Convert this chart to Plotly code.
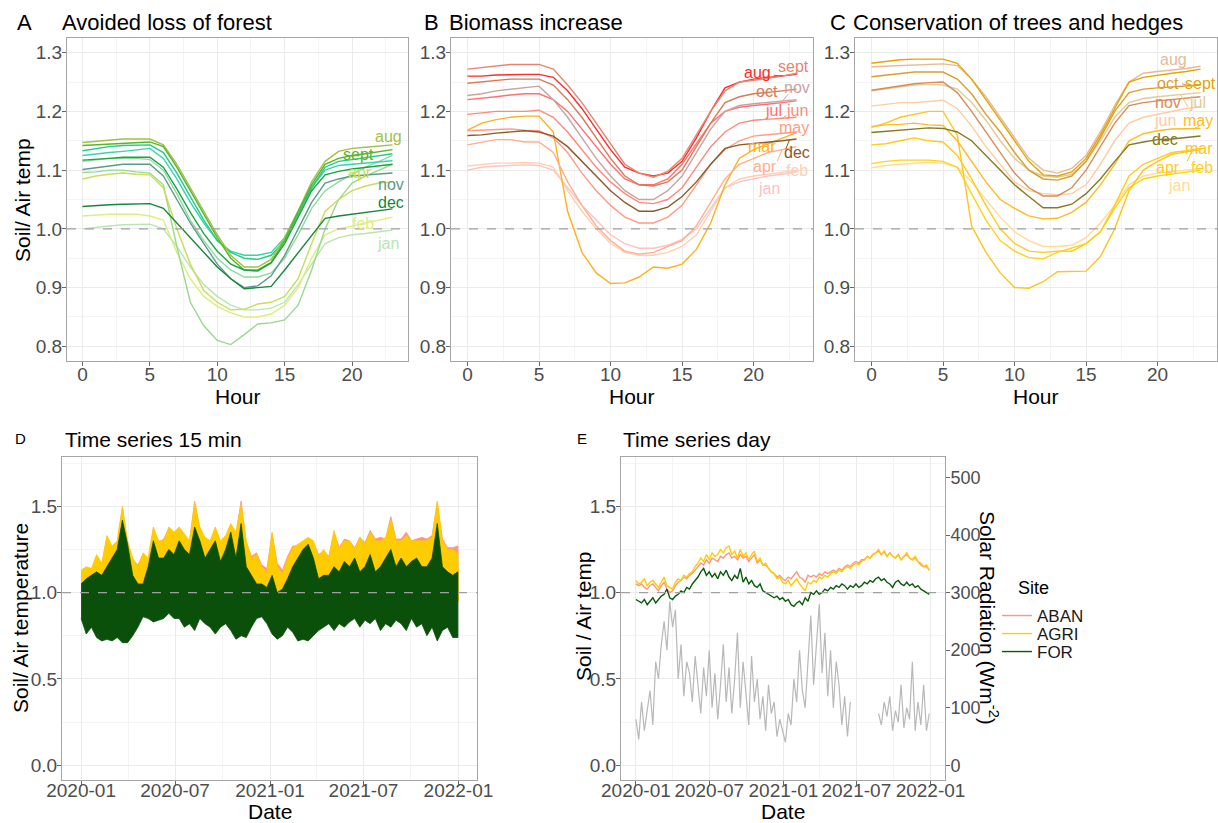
import plotly.graph_objects as go
import pandas as pd

# ---------------- data ----------------
HOURS = list(range(24))
MONTHS = ['jan', 'feb', 'mar', 'apr', 'may', 'jun', 'jul', 'aug', 'sept', 'oct', 'nov', 'dec']

A_FOREST = {
    'aug':  [1.147,1.149,1.151,1.153,1.153,1.153,1.143,1.110,1.070,1.030,0.990,0.955,0.935,0.935,0.948,0.985,1.030,1.080,1.115,1.132,1.137,1.139,1.141,1.143],
    'sept': [1.142,1.143,1.144,1.146,1.147,1.148,1.140,1.105,1.065,1.025,0.985,0.950,0.930,0.930,0.943,0.980,1.030,1.075,1.110,1.120,1.125,1.128,1.131,1.135],
    'jul':  [1.133,1.137,1.140,1.142,1.143,1.143,1.130,1.095,1.055,1.015,0.980,0.960,0.950,0.948,0.955,0.980,1.025,1.070,1.105,1.115,1.118,1.121,1.124,1.128],
    'jun':  [1.125,1.128,1.130,1.132,1.135,1.137,1.120,1.085,1.045,1.010,0.980,0.962,0.955,0.955,0.960,0.985,1.030,1.070,1.100,1.108,1.110,1.112,1.114,1.116],
    'oct':  [1.117,1.118,1.120,1.122,1.122,1.122,1.105,1.068,1.028,0.992,0.962,0.940,0.930,0.928,0.942,0.975,1.020,1.065,1.092,1.098,1.102,1.105,1.108,1.110],
    'may':  [1.115,1.117,1.120,1.120,1.120,1.118,1.100,1.060,1.015,0.980,0.950,0.930,0.918,0.918,0.925,0.950,0.990,1.035,1.065,1.080,1.092,1.105,1.115,1.125],
    'nov':  [1.101,1.104,1.108,1.110,1.110,1.110,1.090,1.050,1.010,0.975,0.940,0.915,0.900,0.903,0.920,0.955,1.000,1.045,1.078,1.085,1.090,1.092,1.094,1.095],
    'mar':  [1.096,1.097,1.100,1.100,1.097,1.095,1.075,0.970,0.875,0.835,0.810,0.803,0.820,0.838,0.840,0.845,0.870,0.930,1.000,1.050,1.078,1.090,1.100,1.110],
    'apr':  [1.085,1.090,1.093,1.095,1.093,1.092,1.070,1.000,0.940,0.895,0.875,0.862,0.863,0.872,0.875,0.885,0.915,0.975,1.030,1.050,1.065,1.073,1.078,1.080],
    'dec':  [1.038,1.040,1.041,1.042,1.043,1.043,1.035,1.010,0.985,0.960,0.935,0.915,0.898,0.900,0.902,0.930,0.960,0.990,1.018,1.022,1.025,1.028,1.031,1.034],
    'feb':  [1.022,1.024,1.025,1.025,1.025,1.022,1.015,0.960,0.915,0.885,0.868,0.857,0.850,0.850,0.855,0.870,0.900,0.950,0.990,1.000,1.005,1.010,1.015,1.020],
    'jan':  [1.000,1.003,1.005,1.007,1.008,1.008,1.000,0.970,0.935,0.905,0.885,0.870,0.862,0.862,0.865,0.875,0.905,0.940,0.975,0.985,0.990,0.992,0.995,0.998],
}

B_BIOMASS = {
    'sept': [1.272,1.275,1.278,1.280,1.280,1.280,1.272,1.245,1.215,1.180,1.145,1.110,1.095,1.088,1.098,1.120,1.160,1.200,1.235,1.250,1.253,1.256,1.260,1.265],
    'aug':  [1.260,1.260,1.262,1.263,1.263,1.263,1.258,1.235,1.205,1.170,1.135,1.105,1.095,1.090,1.095,1.115,1.155,1.200,1.240,1.250,1.255,1.258,1.260,1.263],
    'oct':  [1.248,1.250,1.252,1.255,1.255,1.255,1.245,1.220,1.190,1.155,1.120,1.090,1.075,1.073,1.080,1.100,1.140,1.180,1.215,1.225,1.230,1.232,1.235,1.238],
    'nov':  [1.227,1.230,1.235,1.238,1.240,1.243,1.220,1.190,1.155,1.120,1.090,1.065,1.050,1.050,1.065,1.090,1.130,1.170,1.200,1.210,1.213,1.215,1.217,1.220],
    'jul':  [1.220,1.222,1.225,1.228,1.230,1.230,1.220,1.200,1.170,1.140,1.110,1.085,1.075,1.075,1.085,1.110,1.145,1.180,1.200,1.207,1.210,1.212,1.215,1.218],
    'jun':  [1.195,1.198,1.200,1.200,1.200,1.202,1.190,1.165,1.135,1.105,1.080,1.060,1.045,1.043,1.050,1.070,1.105,1.140,1.165,1.180,1.185,1.187,1.188,1.190],
    'may':  [1.167,1.168,1.170,1.170,1.168,1.167,1.155,1.130,1.095,1.065,1.040,1.020,1.010,1.010,1.020,1.040,1.075,1.110,1.135,1.150,1.158,1.160,1.162,1.165],
    'mar':  [1.168,1.180,1.186,1.190,1.192,1.192,1.165,1.030,0.960,0.925,0.907,0.908,0.918,0.935,0.933,0.940,0.965,1.010,1.075,1.120,1.135,1.145,1.155,1.164],
    'dec':  [1.159,1.160,1.163,1.165,1.167,1.165,1.158,1.140,1.115,1.090,1.065,1.045,1.030,1.030,1.037,1.055,1.080,1.110,1.137,1.143,1.145,1.147,1.150,1.153],
    'apr':  [1.143,1.148,1.152,1.152,1.148,1.148,1.130,1.080,1.040,1.005,0.980,0.962,0.957,0.960,0.970,0.980,1.005,1.045,1.085,1.110,1.120,1.130,1.135,1.140],
    'feb':  [1.107,1.110,1.112,1.112,1.113,1.112,1.105,1.065,1.030,1.000,0.975,0.960,0.955,0.955,0.960,0.970,0.990,1.030,1.070,1.085,1.090,1.093,1.097,1.100],
    'jan':  [1.100,1.105,1.107,1.108,1.109,1.108,1.100,1.070,1.040,1.015,0.990,0.975,0.967,0.967,0.972,0.982,1.000,1.035,1.070,1.080,1.085,1.090,1.093,1.097],
}

C_TREES = {
    'sept': [1.282,1.285,1.288,1.289,1.289,1.289,1.282,1.255,1.220,1.185,1.150,1.115,1.092,1.090,1.097,1.120,1.160,1.205,1.250,1.258,1.262,1.265,1.268,1.272],
    'aug':  [1.276,1.277,1.279,1.280,1.281,1.281,1.278,1.255,1.225,1.190,1.155,1.120,1.100,1.095,1.103,1.125,1.165,1.210,1.250,1.265,1.268,1.270,1.273,1.277],
    'oct':  [1.259,1.262,1.265,1.267,1.267,1.267,1.255,1.230,1.195,1.165,1.130,1.100,1.085,1.083,1.090,1.115,1.155,1.200,1.232,1.238,1.240,1.242,1.243,1.245],
    'nov':  [1.236,1.240,1.244,1.247,1.249,1.250,1.232,1.200,1.165,1.130,1.095,1.070,1.056,1.056,1.070,1.100,1.140,1.180,1.210,1.215,1.218,1.220,1.222,1.225],
    'jul':  [1.235,1.238,1.242,1.245,1.246,1.245,1.238,1.215,1.185,1.150,1.120,1.100,1.090,1.088,1.093,1.115,1.150,1.190,1.215,1.222,1.225,1.227,1.229,1.232],
    'jun':  [1.209,1.212,1.215,1.215,1.217,1.219,1.205,1.175,1.140,1.110,1.080,1.065,1.060,1.058,1.060,1.075,1.110,1.150,1.180,1.190,1.195,1.200,1.205,1.208],
    'may':  [1.174,1.177,1.178,1.180,1.177,1.176,1.150,1.115,1.080,1.050,1.035,1.022,1.017,1.018,1.028,1.045,1.075,1.110,1.150,1.162,1.167,1.170,1.171,1.171],
    'mar':  [1.173,1.180,1.190,1.195,1.200,1.200,1.160,1.005,0.960,0.925,0.900,0.899,0.910,0.927,0.927,0.928,0.953,1.000,1.065,1.100,1.115,1.127,1.131,1.135],
    'dec':  [1.164,1.166,1.168,1.170,1.172,1.171,1.165,1.150,1.125,1.100,1.075,1.055,1.036,1.036,1.042,1.060,1.085,1.115,1.143,1.148,1.152,1.153,1.155,1.158],
    'apr':  [1.143,1.145,1.150,1.155,1.150,1.148,1.125,1.085,1.040,1.000,0.975,0.962,0.960,0.962,0.962,0.975,0.995,1.040,1.090,1.110,1.120,1.130,1.133,1.137],
    'feb':  [1.111,1.115,1.117,1.117,1.117,1.115,1.105,1.060,1.015,0.980,0.962,0.951,0.949,0.960,0.967,0.975,0.995,1.035,1.070,1.085,1.090,1.093,1.097,1.100],
    'jan':  [1.104,1.108,1.110,1.112,1.113,1.112,1.105,1.080,1.050,1.020,0.995,0.980,0.970,0.970,0.972,0.985,1.010,1.040,1.075,1.090,1.095,1.097,1.100,1.103],
}

# 15-min series, summarised as 10-day envelopes (max / min) starting 2020-01-01
D_DATES = pd.date_range('2020-01-01', periods=74, freq='10D').strftime('%Y-%m-%d').tolist()
D_LO_DATES = pd.date_range('2020-01-01', periods=25, freq='MS').strftime('%Y-%m-%d').tolist()
AGRI_HI = [1.13,1.15,1.14,1.22,1.17,1.33,1.27,1.30,1.50,1.30,
           1.20,1.15,1.23,1.20,1.38,1.30,1.30,1.38,1.35,1.38,
           1.34,1.30,1.52,1.38,1.32,1.30,1.38,1.30,1.33,1.40,
           1.35,1.51,1.30,1.20,1.22,1.15,1.12,1.35,1.15,1.11,
           1.20,1.26,1.28,1.30,1.32,1.30,1.21,1.25,1.20,1.36,
           1.25,1.30,1.30,1.25,1.32,1.28,1.35,1.30,1.30,1.32,
           1.42,1.30,1.30,1.33,1.30,1.30,1.30,1.30,1.32,1.53,
           1.30,1.25,1.25,1.23]
ABAN_HI = [1.12,1.14,1.13,1.21,1.16,1.32,1.26,1.29,1.49,1.29,
           1.19,1.16,1.22,1.19,1.37,1.29,1.31,1.37,1.34,1.37,
           1.33,1.29,1.53,1.37,1.31,1.29,1.37,1.29,1.32,1.39,
           1.34,1.53,1.29,1.21,1.23,1.16,1.14,1.34,1.17,1.13,
           1.21,1.27,1.27,1.29,1.31,1.29,1.22,1.24,1.21,1.35,
           1.26,1.31,1.30,1.26,1.32,1.29,1.36,1.31,1.32,1.31,
           1.44,1.31,1.31,1.35,1.30,1.31,1.32,1.31,1.33,1.52,
           1.31,1.26,1.26,1.27]
FOR_HI = [1.05,1.08,1.10,1.12,1.10,1.15,1.20,1.25,1.42,1.28,
          1.10,1.05,1.05,1.15,1.30,1.20,1.20,1.25,1.22,1.30,
          1.25,1.22,1.38,1.30,1.20,1.25,1.30,1.18,1.25,1.35,
          1.20,1.40,1.15,1.10,1.05,1.05,1.03,1.10,1.00,1.02,
          1.08,1.15,1.20,1.25,1.28,1.20,1.08,1.10,1.10,1.15,
          1.12,1.18,1.15,1.20,1.12,1.15,1.22,1.12,1.15,1.20,
          1.25,1.15,1.20,1.15,1.18,1.20,1.15,1.15,1.20,1.40,
          1.15,1.12,1.10,1.12]
FOR_LO = [0.85,0.76,0.80,0.74,0.72,0.73,0.72,0.74,0.71,0.71,
          0.75,0.80,0.86,0.85,0.83,0.84,0.85,0.88,0.85,0.85,
          0.80,0.82,0.78,0.85,0.82,0.80,0.76,0.80,0.82,0.78,
          0.73,0.75,0.74,0.80,0.85,0.86,0.82,0.76,0.73,0.75,
          0.80,0.77,0.72,0.73,0.72,0.75,0.78,0.80,0.82,0.78,
          0.82,0.80,0.83,0.85,0.80,0.84,0.82,0.85,0.78,0.82,
          0.80,0.84,0.82,0.78,0.85,0.80,0.82,0.75,0.80,0.72,
          0.78,0.80,0.74,0.74]
AGRI_LO = [0.95,0.93,0.92,0.93,0.96,0.98,0.97,0.97,0.96,0.94,0.93,0.95,
           0.95,0.92,0.91,0.93,0.95,0.97,0.97,0.97,0.96,0.96,0.95,0.95,0.95]
ABAN_LO = [0.96,0.94,0.93,0.94,0.96,0.97,0.96,0.96,0.95,0.94,0.94,0.96,
           0.96,0.93,0.92,0.94,0.95,0.97,0.97,0.97,0.96,0.96,0.95,0.95,0.95]

# daily series, read at weekly steps starting 2020-01-01
E_DATES = pd.date_range('2020-01-01', periods=105, freq='7D').strftime('%Y-%m-%d').tolist()
AGRI_DAY = [1.07,1.05,1.06,1.08,1.04,1.06,1.07,1.05,1.03,1.06,
            1.09,1.04,1.03,1.02,1.06,1.08,1.07,1.10,1.09,1.11,
            1.12,1.15,1.17,1.20,1.18,1.22,1.19,1.23,1.21,1.22,
            1.25,1.23,1.26,1.27,1.22,1.24,1.20,1.25,1.21,1.23,
            1.19,1.22,1.24,1.18,1.20,1.16,1.17,1.14,1.12,1.11,
            1.08,1.09,1.06,1.05,1.07,1.04,1.06,1.08,1.05,1.03,
            1.01,1.06,1.05,1.07,1.06,1.09,1.08,1.10,1.09,1.11,
            1.12,1.11,1.13,1.12,1.14,1.15,1.14,1.16,1.17,1.16,
            1.18,1.19,1.21,1.20,1.22,1.23,1.25,1.22,1.24,1.21,
            1.23,1.21,1.20,1.22,1.19,1.21,1.23,1.20,1.19,1.21,
            1.18,1.17,1.15,1.16,1.13]
ABAN_DAY = [1.05,1.04,1.05,1.03,1.02,1.04,1.05,1.03,1.01,1.04,
            1.06,1.02,1.00,1.01,1.04,1.06,1.07,1.09,1.08,1.10,
            1.11,1.13,1.15,1.17,1.16,1.19,1.17,1.20,1.19,1.18,
            1.21,1.20,1.22,1.23,1.20,1.21,1.19,1.22,1.20,1.21,
            1.18,1.20,1.22,1.17,1.19,1.16,1.16,1.14,1.12,1.11,
            1.09,1.10,1.08,1.07,1.09,1.08,1.10,1.12,1.09,1.08,
            1.06,1.10,1.09,1.10,1.09,1.11,1.10,1.12,1.11,1.12,
            1.13,1.12,1.14,1.13,1.15,1.16,1.15,1.17,1.18,1.17,
            1.19,1.19,1.21,1.20,1.22,1.23,1.24,1.22,1.24,1.21,
            1.23,1.21,1.20,1.22,1.19,1.21,1.22,1.20,1.19,1.20,
            1.18,1.16,1.15,1.15,1.13]
FOR_DAY = [0.96,0.95,0.94,0.96,0.93,0.95,0.97,0.94,0.96,0.98,
           0.99,1.02,0.97,0.96,0.98,0.99,1.01,1.00,1.03,1.02,
           1.05,1.07,1.09,1.12,1.14,1.10,1.12,1.09,1.11,1.08,
           1.12,1.10,1.13,1.09,1.07,1.10,1.08,1.14,1.06,1.09,
           1.05,1.07,1.04,1.03,1.05,1.01,1.00,0.99,0.98,0.97,
           0.98,0.96,0.97,0.95,0.96,0.93,0.92,0.94,0.95,0.93,
           0.97,0.95,1.00,0.99,1.01,0.99,1.00,1.02,1.01,1.03,
           1.02,1.04,1.03,1.05,1.04,1.02,1.04,1.03,1.05,1.03,
           1.04,1.06,1.05,1.07,1.06,1.08,1.09,1.07,1.08,1.06,
           1.05,1.03,1.06,1.07,1.05,1.04,1.06,1.04,1.05,1.03,
           1.04,1.02,1.01,1.00,0.99]
SOLAR = [80,45,110,60,95,130,70,180,150,210,
         250,200,285,240,270,150,210,120,180,160,
         110,190,140,90,170,120,200,100,160,80,
         140,210,110,170,90,150,230,100,180,130,
         70,190,110,150,80,120,60,140,90,110,
         50,80,60,40,90,70,150,110,200,130,
         100,180,260,140,220,280,160,230,120,200,
         100,180,140,70,120,50,110,None,None,None,
         None,None,None,None,None,None,90,70,110,85,
         120,60,95,75,140,65,100,80,180,60,
         110,70,140,60,90]

REF_RATIO = 1.0

# ---------------- styles ----------------
A_COLORS = {'jan': '#b9e6b0', 'feb': '#dcee7e', 'mar': '#98d98e', 'apr': '#c6de58',
            'may': '#8ddc9c', 'jun': '#33d6a6', 'jul': '#1ecb8a', 'aug': '#9fc23f',
            'sept': '#58b526', 'oct': '#17a63f', 'nov': '#5b9b8b', 'dec': '#16863a'}
B_COLORS = {'jan': '#ffc2c2', 'feb': '#ffcfb0', 'mar': '#ffb020', 'apr': '#ffae8f',
            'may': '#ff9c85', 'jun': '#ff8a7a', 'jul': '#ff7070', 'aug': '#ff2a2a',
            'sept': '#e8846e', 'oct': '#d87a58', 'nov': '#c9a3a3', 'dec': '#8b5a2b'}
C_COLORS = {'jan': '#ffdc90', 'feb': '#ffd21a', 'mar': '#ffc420', 'apr': '#ffcc1a',
            'may': '#ffbb22', 'jun': '#ffcca0', 'jul': '#e2cb95', 'aug': '#e6ba96',
            'sept': '#e3a600', 'oct': '#d99e30', 'nov': '#d98b5a', 'dec': '#857a22'}
SITE_COLORS = {'ABAN': '#ff9580', 'AGRI': '#ffcc00', 'FOR': '#0b5a0b'}

# month label placements (hour, ratio) as repelled in the original
A_LABELS = {'aug': (22.7, 1.157), 'sept': (20.5, 1.127), 'apr': (20.6, 1.096), 'nov': (22.9, 1.075),
            'dec': (22.9, 1.045), 'feb': (20.8, 1.009), 'jan': (22.7, 0.975)}
B_LABELS = {'aug': (20.3, 1.266), 'sept': (22.8, 1.277), 'oct': (20.9, 1.234), 'nov': (23.0, 1.240),
            'jul': (21.4, 1.201), 'jun': (23.0, 1.201), 'may': (22.8, 1.172), 'mar': (20.6, 1.140),
            'dec': (23.0, 1.130), 'apr': (20.8, 1.107), 'feb': (23.0, 1.100), 'jan': (21.1, 1.068)}
C_LABELS = {'aug': (21.1, 1.288), 'oct': (20.7, 1.248), 'sept': (23.0, 1.248), 'nov': (20.7, 1.216),
            'jul': (22.8, 1.216), 'jun': (20.5, 1.185), 'may': (22.8, 1.184), 'dec': (20.55, 1.153),
            'mar': (22.9, 1.136), 'apr': (20.7, 1.105), 'feb': (23.1, 1.105), 'jan': (21.5, 1.073)}
# leader segments of the repelled labels: (month, hour at label, ratio at label, hour at line)
B_LEADERS = [('aug', 21.3, 1.262, 22.0), ('nov', 22.5, 1.232, 22.0), ('jun', 22.4, 1.195, 22.0),
             ('dec', 22.2, 1.133, 22.5), ('apr', 21.6, 1.113, 22.0), ('feb', 22.2, 1.090, 21.8)]
C_LEADERS = [('oct', 21.6, 1.248, 22.2), ('jul', 22.2, 1.205, 21.6), ('mar', 22.0, 1.112, 22.4),
             ('may', 23.0, 1.176, 22.6)]

W, H = 1218, 823
FONT = 'Liberation Sans, Arial, sans-serif'
TICKC = '#4d4d4d'
GRID = '#ebebeb'
MINOR = '#f4f4f4'
FRAME = '#a6a6a6'


def px(x):
    return x / W


def py(y):
    return 1 - y / H


fig = go.Figure()

# ---- top panels ----
top = [('x', 'y', A_FOREST, A_COLORS, A_LABELS, []),
       ('x2', 'y2', B_BIOMASS, B_COLORS, B_LABELS, B_LEADERS),
       ('x3', 'y3', C_TREES, C_COLORS, C_LABELS, C_LEADERS)]
annotations = []
for xa, ya, data, cols, labels, leaders in top:
    for m in MONTHS:
        fig.add_trace(go.Scatter(x=HOURS, y=data[m], mode='lines',
                                 line=dict(color=cols[m], width=1.4),
                                 xaxis=xa, yaxis=ya, showlegend=False, hoverinfo='skip'))
    for m, (hx, vy) in labels.items():
        annotations.append(dict(x=hx, y=vy, xref=xa, yref=ya, text=m, showarrow=False,
                                font=dict(family=FONT, size=16, color=cols[m]),
                                xanchor='center', yanchor='middle'))
    for m, lx, ly, hx in leaders:
        # segment from the label to the month's own line (value read from the series)
        hi = int(hx)
        frac = hx - hi
        vy = data[m][hi] + (data[m][min(hi + 1, 23)] - data[m][hi]) * frac
        annotations.append(dict(x=hx, y=vy, xref=xa, yref=ya, ax=lx, ay=ly, axref=xa, ayref=ya,
                                text='', showarrow=True, arrowhead=0, arrowwidth=1,
                                arrowcolor=cols[m], standoff=0, startstandoff=0))


# ---- D: 15-min envelopes ----
def band(xh, yh, xl, yl):
    return list(xh) + list(xl)[::-1], list(yh) + list(yl)[::-1]


for name, hi, lo_d, lo in [('ABAN', ABAN_HI, D_LO_DATES, ABAN_LO),
                           ('AGRI', AGRI_HI, D_LO_DATES, AGRI_LO),
                           ('FOR', FOR_HI, D_DATES, FOR_LO)]:
    bx, by = band(D_DATES, hi, lo_d, lo)
    col = SITE_COLORS[name] if name != 'FOR' else '#0a4f0a'
    fig.add_trace(go.Scatter(x=bx, y=by, mode='lines', fill='toself', fillcolor=col,
                             line=dict(color=col, width=0.8), xaxis='x4', yaxis='y4',
                             showlegend=False, hoverinfo='skip'))

# ---- E: daily ----
fig.add_trace(go.Scatter(x=E_DATES, y=SOLAR, mode='lines', line=dict(color='#b8b8b8', width=1.2),
                         xaxis='x5', yaxis='y6', showlegend=False, hoverinfo='skip'))
LEGEND_Y = {'ABAN': 616, 'AGRI': 634, 'FOR': 652}
LEGEND_ID = {'ABAN': 'legend', 'AGRI': 'legend2', 'FOR': 'legend3'}
for name, vals in [('ABAN', ABAN_DAY), ('AGRI', AGRI_DAY), ('FOR', FOR_DAY)]:
    fig.add_trace(go.Scatter(x=E_DATES, y=vals, mode='lines', name=name,
                             line=dict(color=SITE_COLORS[name], width=1.4),
                             xaxis='x5', yaxis='y5', showlegend=True, hoverinfo='skip',
                             legend=LEGEND_ID[name]))


def axis(**kw):
    d = dict(showline=True, linecolor=FRAME, linewidth=1, mirror=True, ticks='outside',
             ticklen=4, tickcolor='#666666', tickwidth=1, showgrid=True, gridcolor=GRID,
             gridwidth=1, zeroline=False, automargin=False, tickangle=0,
             tickfont=dict(family=FONT, size=19, color=TICKC))
    d.update(kw)
    return d


TOP_Y = [py(361), py(38)]
BOT_Y = [py(780), py(457)]
hour_x = dict(range=[-1.15, 24.15], tick0=0, dtick=5, ticklabelstandoff=-8,
              minor=dict(tick0=0, dtick=2.5, showgrid=True, gridcolor=MINOR))
ratio_y = dict(range=[0.775, 1.325], tick0=0.8, dtick=0.1, tickformat='.1f', ticklabelstandoff=-4,
               minor=dict(tick0=0.8, dtick=0.05, showgrid=True, gridcolor=MINOR))
date_x = dict(type='date', range=['2019-11-25', '2022-02-06'], tick0='2020-01-01', dtick='M6',
              tickformat='%Y-%m', ticklabelstandoff=-11,
              minor=dict(tick0='2020-01-01', dtick='M3', showgrid=True, gridcolor=MINOR))
long_y = dict(range=[-0.085, 1.785], tick0=0, dtick=0.5, tickformat='.1f', ticklabelstandoff=-4,
              minor=dict(tick0=0, dtick=0.25, showgrid=True, gridcolor=MINOR))


def legend_box(name):
    return dict(x=px(997), y=py(LEGEND_Y[name]), xanchor='left', yanchor='middle',
                font=dict(family=FONT, size=17, color='#1a1a1a'),
                bgcolor='rgba(0,0,0,0)', borderwidth=0, itemwidth=30, tracegroupgap=0)


fig.update_layout(
    width=W, height=H, autosize=False,
    margin=dict(l=0, r=0, t=0, b=0, autoexpand=False),
    paper_bgcolor='white', plot_bgcolor='white',
    font=dict(family=FONT, color='#1a1a1a'),
    xaxis=axis(domain=[px(67), px(408)], anchor='y', **hour_x),
    yaxis=axis(domain=TOP_Y, anchor='x', **ratio_y),
    xaxis2=axis(domain=[px(451), px(813)], anchor='y2', **hour_x),
    yaxis2=axis(domain=TOP_Y, anchor='x2', **ratio_y),
    xaxis3=axis(domain=[px(855), px(1217)], anchor='y3', **hour_x),
    yaxis3=axis(domain=TOP_Y, anchor='x3', **ratio_y),
    xaxis4=axis(domain=[px(62), px(477)], anchor='y4', **date_x),
    yaxis4=axis(domain=BOT_Y, anchor='x4', **long_y),
    xaxis5=axis(domain=[px(621), px(945)], anchor='y5', **date_x),
    yaxis5=axis(domain=BOT_Y, anchor='x5', **long_y),
    yaxis6=dict(overlaying='y5', anchor='x5', side='right', range=[-25.5, 535.5],
                tick0=0, dtick=100, showgrid=False, zeroline=False, showline=False,
                automargin=False, ticklabelstandoff=-3,
                ticks='outside', ticklen=4, tickcolor='#666666',
                tickfont=dict(family=FONT, size=18, color=TICKC)),
    legend=legend_box('ABAN'),
    legend2=legend_box('AGRI'),
    legend3=legend_box('FOR'),
    showlegend=True,
)

# reference line at ratio 1
shapes = []
for xa, ya in [('x', 'y'), ('x2', 'y2'), ('x3', 'y3'), ('x4', 'y4'), ('x5', 'y5')]:
    shapes.append(dict(type='line', xref=f'{xa} domain', x0=0, x1=1, yref=ya,
                       y0=REF_RATIO, y1=REF_RATIO, layer='above',
                       line=dict(color='#a0a0a0', width=1.2, dash='dash')))
fig.update_layout(shapes=shapes)


def text(x, y, s, size, anchor='left', angle=0, color='#000000'):
    annotations.append(dict(x=px(x), y=py(y), xref='paper', yref='paper', text=s,
                            showarrow=False, textangle=angle, xanchor=anchor, yanchor='middle',
                            font=dict(family=FONT, size=size, color=color)))


# panel titles
text(15, 22, 'A', 22)
text(60, 22, 'Avoided loss of forest', 22)
text(422, 22, 'B', 22)
text(447, 22, 'Biomass increase', 22)
text(828, 22, 'C', 22)
text(851, 22, 'Conservation of trees and hedges', 22)
text(13, 438, 'D', 15)
text(63, 439, 'Time series 15 min', 21)
text(575, 438, 'E', 15)
text(621, 439, 'Time series day', 21)

# axis titles
for cx in (237.5, 632, 1036):
    text(cx, 396, 'Hour', 21, anchor='center')
text(22, 200, 'Soil/ Air temp', 21, anchor='center', angle=-90)
text(270, 811, 'Date', 21, anchor='center')
text(20, 618, 'Soil/ Air temperature', 21, anchor='center', angle=-90)
text(783, 811, 'Date', 21, anchor='center')
text(583, 616, 'Soil / Air temp', 21, anchor='center', angle=-90)
text(989, 618, 'Solar Radiation (Wm<sup>-2</sup>)', 21, anchor='center', angle=90)
text(1016, 588, 'Site', 18)

fig.update_layout(annotations=annotations)
fig.write_html('out.html')
